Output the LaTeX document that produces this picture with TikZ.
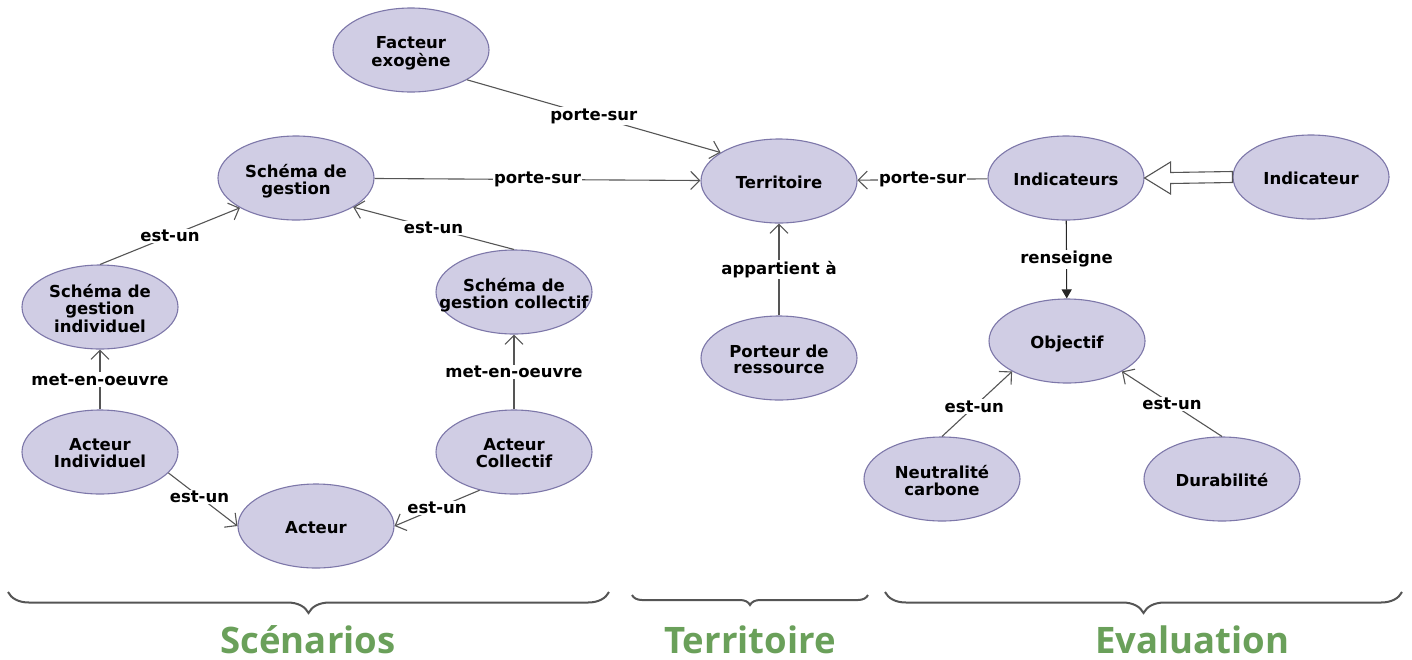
\documentclass[tikz,border=0pt]{standalone}
\usepackage{fontspec}
\newfontfamily\nodefont{DejaVu Sans}
\newfontfamily\headfont{Open Sans}
\usetikzlibrary{shapes.geometric,arrows.meta,decorations.pathreplacing,calc}
\definecolor{entfill}{HTML}{D0CDE4}
\definecolor{entdraw}{HTML}{7D77A9}
\definecolor{linkgray}{HTML}{555555}
\definecolor{headgreen}{HTML}{6AA05A}
\definecolor{bracegray}{HTML}{555555}
% centred multi-line text that does not widen the ellipse
\newcommand\ctext[1]{\makebox[0pt]{\smash{\raisebox{-8pt}{\begin{tabular}{@{}c@{}}#1\end{tabular}}}}}

\begin{document}
\begin{tikzpicture}[x=1pt,y=-1pt,
  ent/.style={ellipse, draw=entdraw, fill=entfill, line width=1.1pt,
    minimum width=156pt, minimum height=84pt, inner sep=0pt,
    font=\nodefont\bfseries\fontsize{16.5}{16}\selectfont},
  rel/.style={draw=linkgray, line width=1.1pt,
    -{Straight Barb[length=9pt,width=18pt]}},
  lbl/.style={fill=white, inner sep=1.2pt, text=black,
    font=\nodefont\bfseries\fontsize{16.5}{16}\selectfont},
  hd/.style={font=\headfont\bfseries\fontsize{36.5}{40}\selectfont,
    text=headgreen, anchor=base},
  grp/.style={draw=bracegray, line width=2pt, decorate,
    decoration={brace, mirror, amplitude=#1}}
]
\useasboundingbox (0,0) rectangle (1412,659);

% ---- entities ----
\node[ent] (fac)  at (411,50)   {\ctext{Facteur\\exogène}};
\node[ent] (sg)   at (296,178)  {\ctext{Schéma de\\gestion}};
\node[ent] (terr) at (779,181)  {\ctext{Territoire}};
\node[ent] (inds) at (1066,178) {\ctext{Indicateurs}};
\node[ent] (ind)  at (1311,177) {\ctext{Indicateur}};
\node[ent] (sgi)  at (100,307)  {\ctext{Schéma de\\gestion\\individuel}};
\node[ent] (sgc)  at (514,292)  {\ctext{Schéma de\\gestion collectif}};
\node[ent] (port) at (779,358)  {\ctext{Porteur de\\ressource}};
\node[ent] (obj)  at (1067,341) {\ctext{Objectif}};
\node[ent] (ai)   at (100,452)  {\ctext{Acteur\\Individuel}};
\node[ent] (ac)   at (514,452)  {\ctext{Acteur\\Collectif}};
\node[ent] (act)  at (316,526)  {\ctext{Acteur}};
\node[ent] (neut) at (942,479)  {\ctext{Neutralité\\carbone}};
\node[ent] (dur)  at (1222,479) {\ctext{Durabilité}};

% ---- relations ----
\draw[rel] (fac.-28.5) -- node[lbl] {porte-sur} (terr.154);
\draw[rel] (sg) -- node[lbl] {porte-sur} (terr);
\draw[rel] (inds) -- node[lbl] {porte-sur} (terr);
\draw[rel] (port.north) -- node[lbl] {appartient à} (terr.south);
\draw[rel] (sgi.north) -- node[lbl] {est-un} (sg.208);
\draw[rel] (sgc.north) -- node[lbl] {est-un} (sg.-27);
\draw[rel] (ai.north) -- node[lbl] {met-en-oeuvre} (sgi.south);
\draw[rel] (ac.north) -- node[lbl] {met-en-oeuvre} (sgc.south);
\draw[rel] (ai.-17) -- node[lbl,pos=.45] {est-un} (act.west);
\draw[rel] (ac.228) -- node[lbl] {est-un} (act.east);
\draw[rel] (neut.north) -- node[lbl,pos=.46] {est-un} (obj.209);
\draw[rel] (dur.north) -- node[lbl] {est-un} (obj.-29);
\draw[draw=black!85, line width=1.1pt, -{Triangle[length=9pt,width=10pt]}]
  (inds) -- node[lbl] {renseigne} (obj);

% generalisation: hollow block arrow from Indicateur to Indicateurs
\draw[draw=linkgray, line width=1.1pt, fill=white, line join=miter]
  (inds.east) -- ++(26,-16) -- ++(0,10.5)
  -- ($(ind.west)+(0,-5.5)$) -- ($(ind.west)+(0,5.5)$)
  -- ($(inds.east)+(26,5.5)$) -- ++(0,10.5) -- cycle;

% ---- groups ----
\draw[grp=21] (8,592) -- (609,592);
\draw[grp=10] (632,595) -- (868,595);
\draw[grp=21] (885,592) -- (1402,592);
\node[hd] (hsc) at (308,653)  {Scénarios};
\node[hd] (hte) at (750,653)  {Territoire};
\node[hd] (hev) at (1192,653) {Evaluation};
\end{tikzpicture}
\end{document}
